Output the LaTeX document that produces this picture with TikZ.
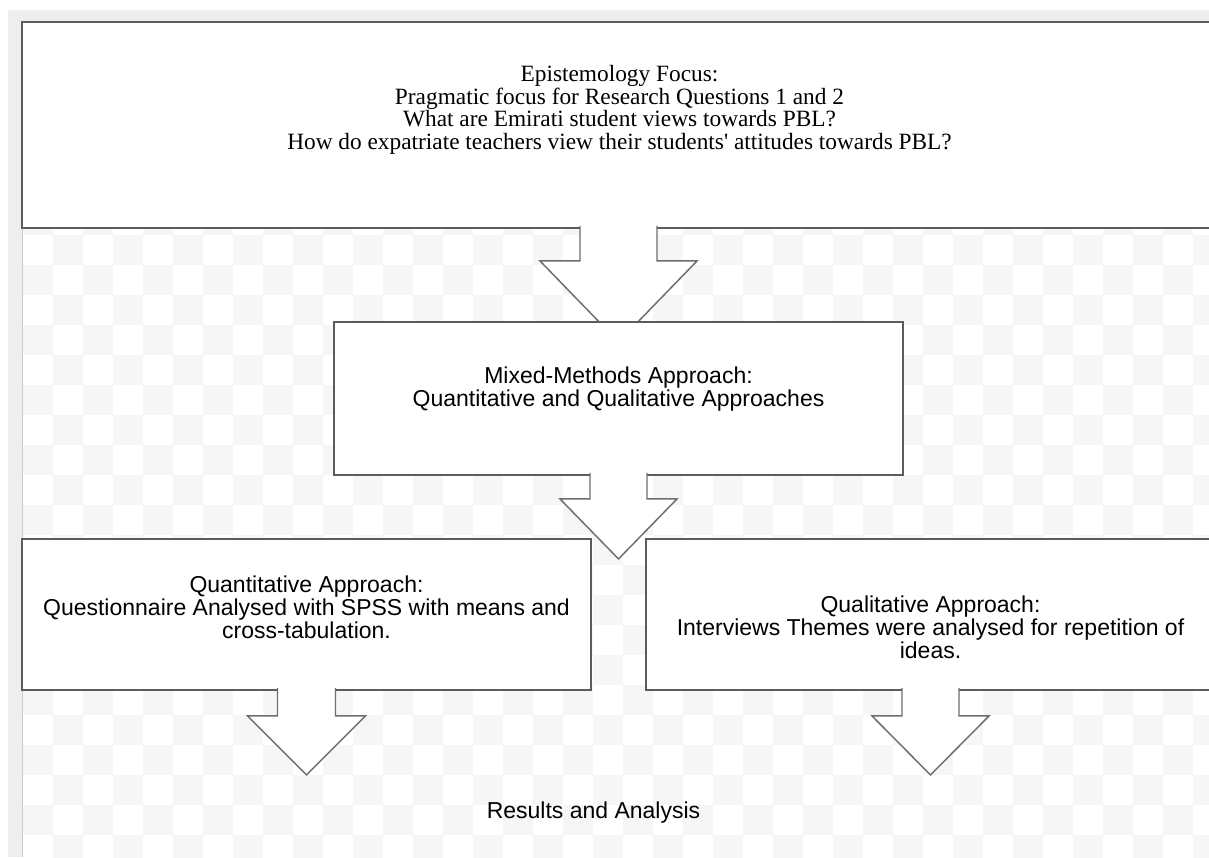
\documentclass[tikz,border=0pt]{standalone}
\usepackage{fontspec}
\setmainfont{Liberation Serif}
\setsansfont{Liberation Sans}
\usetikzlibrary{positioning}
\definecolor{frameGrey}{HTML}{EEEEEE}
\definecolor{checkGrey}{HTML}{F6F6F6}
\definecolor{edgeColor}{HTML}{5C5C5C}
\definecolor{arrowColor}{HTML}{6E6E6E}
\definecolor{canvasLine}{HTML}{CCCCCC}

% block arrow hanging below a box: node, stem half width, stem length, head half width, head length
\newcommand{\flowarrow}[5]{%
  \filldraw[flowArrow, shift={(#1.south)}] (-#2,-3) -- (-#2,#3) -- (-#4,#3) -- (0,#3+#5) -- (#4,#3) -- (#2,#3) -- (#2,-3);
}

\begin{document}
\begin{tikzpicture}[x=0.75pt, y=-0.75pt,
    boxNode/.style={draw=edgeColor, line width=1.4pt, fill=white, inner sep=0pt},
    serifText/.style={align=center, font=\fontsize{17.5}{17}\selectfont},
    sansText/.style={align=center, font=\sffamily\fontsize{17.25}{17.25}\selectfont},
    flowArrow/.style={draw=arrowColor, line width=1.1pt, fill=white, line join=miter}]

  \useasboundingbox (0,0) rectangle (1209,857);
  \fill[white] (0,0) rectangle (1209,857);
  \fill[frameGrey] (8,10) rectangle (1209,857);

  % checker background
  \begin{scope}
    \clip (22,22) rectangle (1209,857);
    \fill[white] (22,22) rectangle (1209,857);
    \foreach \i in {-1,...,39}
      \foreach \j in {-1,...,27} {
        \pgfmathtruncatemacro\parity{mod(\i+\j+2,2)}
        \ifnum\parity=0
          \fill[checkGrey] (23+30*\i,25+30*\j) rectangle ++(30,30);
        \fi
      }
  \end{scope}
  \draw[canvasLine, line width=0.8pt] (22.5,22) -- (22.5,857);

  % epistemology
  \node[boxNode, minimum width=894.75pt, minimum height=154.5pt] (focus) at (618.5,125) {};
  \node[serifText] (focusText) at (619.5,110) {Epistemology Focus:\\ Pragmatic focus for Research Questions 1 and 2\\ What are Emirati student views towards PBL?\\ How do expatriate teachers view their students\textquotesingle{} attitudes towards PBL?};
  \flowarrow{focus}{38.5}{32}{78.5}{81}

  % mixed methods
  \node[boxNode, minimum width=426.75pt, minimum height=114.75pt] (mixed) at (618.5,398.5) {};
  \node[sansText] (mixedText) at (618.5,389.5) {Mixed-Methods Approach:\\ Quantitative and Qualitative Approaches};
  \flowarrow{mixed}{28.5}{23}{58.5}{60}

  % two strands
  \node[boxNode, minimum width=426.75pt, minimum height=113.25pt] (quant) at (306.5,614.5) {};
  \node[sansText] (quantText) at (306.5,607) {Quantitative Approach:\\ Questionnaire Analysed with SPSS with means and\\ cross-tabulation.};
  \node[boxNode, minimum width=426.75pt, minimum height=113.25pt] (qual) at (930.5,614.5) {};
  \node[sansText] (qualText) at (930.5,627) {Qualitative Approach:\\ Interviews Themes were analysed for repetition of\\ ideas.};
  \flowarrow{quant}{29}{25}{59}{59}
  \flowarrow{qual}{28.5}{25}{58.5}{59}

  \node[sansText] (results) at (593.5,813) {Results and Analysis};
\end{tikzpicture}
\end{document}
